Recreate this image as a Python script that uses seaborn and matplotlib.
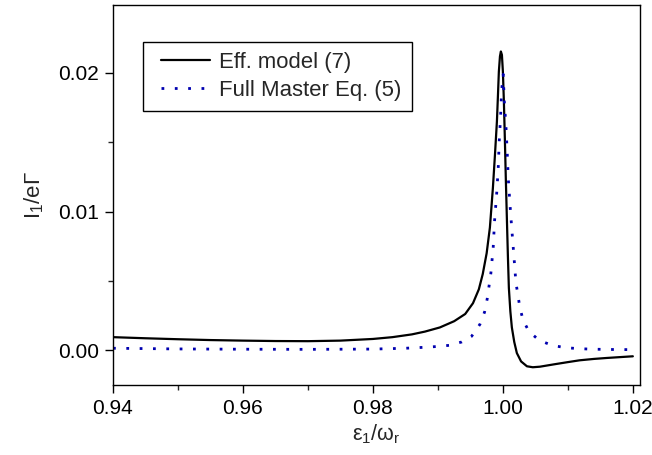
import matplotlib
matplotlib.use("Agg")
import matplotlib.pyplot as plt
import seaborn as sns
import pandas as pd
from matplotlib.ticker import MultipleLocator, FormatStrFormatter
from matplotlib.legend_handler import HandlerLine2D
from matplotlib.lines import Line2D

# Effective model (7): current vs detuning
eff_x = [0.940, 0.945, 0.950, 0.955, 0.960, 0.965, 0.970, 0.975, 0.980, 0.983,
         0.986, 0.988, 0.9903, 0.9925, 0.9942, 0.9954, 0.9963, 0.9969, 0.9975,
         0.9980, 0.99846, 0.99878, 0.99908, 0.99925, 0.99938, 0.99955, 0.99969,
         0.99985, 1.0000, 1.00015, 1.0003, 1.00046, 1.00062, 1.00077, 1.00092,
         1.00115, 1.00138, 1.00175, 1.00215, 1.0028, 1.0037, 1.0046, 1.0057,
         1.0080, 1.0100, 1.0118, 1.0140, 1.0160, 1.0180, 1.0200]
eff_y = [0.00095, 0.00087, 0.00080, 0.00074, 0.00070, 0.00067, 0.00066, 0.00070,
         0.00082, 0.00095, 0.00115, 0.00135, 0.00165, 0.00210, 0.00262, 0.00340,
         0.00440, 0.00550, 0.00700, 0.00885, 0.01170, 0.01410, 0.01650, 0.01850,
         0.02010, 0.02120, 0.02155, 0.02130, 0.02010, 0.01800, 0.01530, 0.01220,
         0.00940, 0.00680, 0.00450, 0.00280, 0.00165, 0.00060, -0.00020,
         -0.00080, -0.00115, -0.00122, -0.00118, -0.00100, -0.00085, -0.00072,
         -0.00062, -0.00055, -0.00049, -0.00043]

# Full master equation (5)
fme_x = [0.940, 0.950, 0.960, 0.970, 0.980, 0.985, 0.988, 0.9900, 0.99174,
         0.99365, 0.99518, 0.99646, 0.99718, 0.99759, 0.99815, 0.99851, 0.99872,
         0.99903, 0.99928, 0.99943, 0.99965, 0.99980, 1.00005, 1.00020, 1.00046,
         1.00066, 1.00082, 1.00108, 1.00138, 1.00169, 1.00200, 1.00262, 1.00312,
         1.0040, 1.00558, 1.00758, 1.0095, 1.01158, 1.0140, 1.0170, 1.0200]
fme_y = [0.00015, 0.00010, 0.00008, 0.00007, 0.00009, 0.00015, 0.00022, 0.00028,
         0.00036, 0.00060, 0.00101, 0.00187, 0.00276, 0.00372, 0.00556, 0.00743,
         0.00935, 0.01120, 0.01310, 0.01500, 0.01690, 0.01870, 0.01990, 0.01810,
         0.01626, 0.01434, 0.01247, 0.01060, 0.00868, 0.00683, 0.00491, 0.00307,
         0.00216, 0.00137, 0.00072, 0.00036, 0.00020, 0.00012, 0.00008, 0.00006,
         0.00005]

xticks = [0.94, 0.96, 0.98, 1.00, 1.02]
yticks = [0.00, 0.01, 0.02]

sns.set_style("ticks")
plt.rcParams["font.family"] = ["Liberation Sans", "DejaVu Sans"]
plt.rcParams["mathtext.fontset"] = "custom"
plt.rcParams["mathtext.rm"] = "Liberation Sans"
plt.rcParams["mathtext.it"] = "Liberation Sans:italic"

df_eff = pd.DataFrame({"x": eff_x, "y": eff_y})
df_fme = pd.DataFrame({"x": fme_x, "y": fme_y})

fig = plt.figure(figsize=(6.52, 4.55), dpi=100)
ax = fig.add_axes([113 / 652, 1 - 385 / 455, 527 / 652, 380 / 455])

sns.lineplot(data=df_eff, x="x", y="y", ax=ax, color="black", lw=1.6,
             label="Eff. model (7)", sort=False)
sns.lineplot(data=df_fme, x="x", y="y", ax=ax, color="#0000B0", lw=2.0,
             linestyle=(0, (1, 3.8)), label="Full Master Eq. (5)", sort=False)

ax.set_xlim(0.94, 1.0211)
ax.set_ylim(-0.0025, 0.0249)
ax.set_xticks(xticks)
ax.set_yticks(yticks)
ax.xaxis.set_minor_locator(MultipleLocator(0.01))
ax.yaxis.set_minor_locator(MultipleLocator(0.005))
ax.xaxis.set_major_formatter(FormatStrFormatter("%.2f"))
ax.yaxis.set_major_formatter(FormatStrFormatter("%.2f"))
ax.tick_params(which="major", direction="out", length=6, width=1, labelsize=15,
               colors="black", pad=4)
ax.tick_params(which="minor", direction="out", length=3.5, width=1)
for s in ax.spines.values():
    s.set_linewidth(1.0)
    s.set_color("black")

ax.set_xlabel(r"$\mathregular{ε_1/ω_r}$", fontsize=15.5, labelpad=3)
ax.set_ylabel(r"$\mathregular{I_1/eΓ}$", fontsize=16, labelpad=9)

handles, labels = ax.get_legend_handles_labels()
leg = ax.legend(handles, labels, loc="upper left", bbox_to_anchor=(0.057, 0.903),
                borderaxespad=0, fontsize=15.9, frameon=True, fancybox=False,
                handlelength=2.6, handletextpad=0.41, borderpad=0.45,
                labelspacing=0.33,
                handler_map={Line2D: HandlerLine2D(xpad=0.37)})
leg.get_frame().set_edgecolor("black")
leg.get_frame().set_linewidth(1.0)
leg.get_frame().set_alpha(1)

fig.savefig("out.png", dpi=100)
